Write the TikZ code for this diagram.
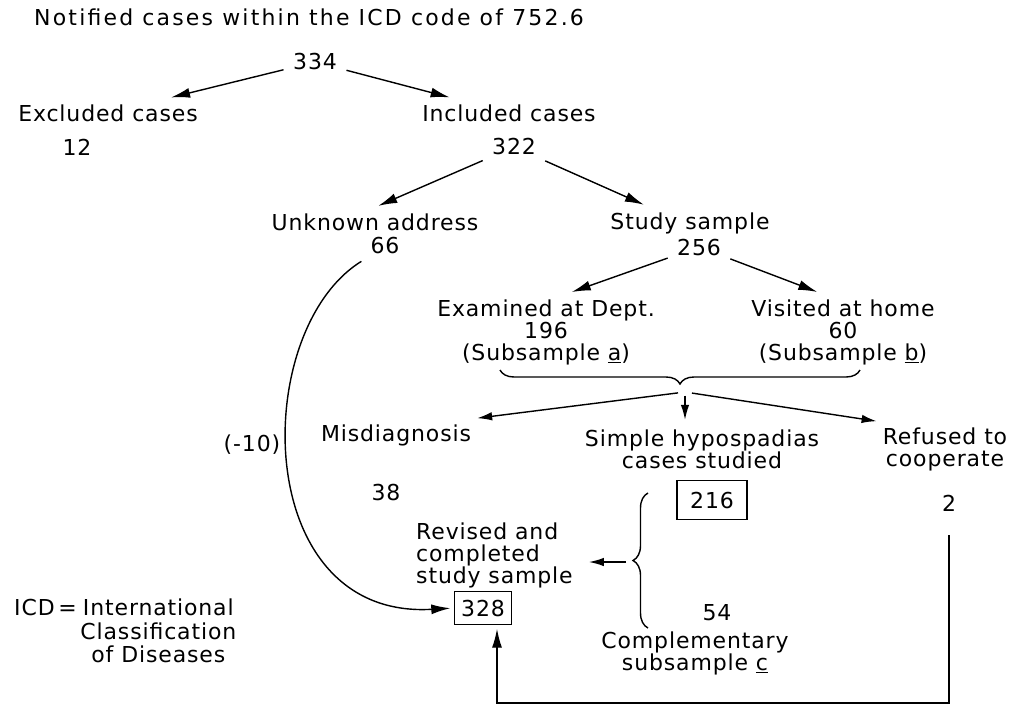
\documentclass[tikz,border=0pt]{standalone}
\usepackage{fontspec}
\setmainfont{DejaVu Sans}[LetterSpace=4]
\newfontfamily\titlefont{DejaVu Sans}[LetterSpace=10]
\usetikzlibrary{arrows.meta,decorations.pathreplacing,calc}

\tikzset{
  arr/.style={-{Latex[length=3.8mm,width=2mm]},line width=0.8pt,shorten <=2pt,shorten >=2pt},
  sarr/.style={-{Latex[length=3mm,width=1.7mm]},line width=0.8pt},
  numbox/.style={draw,line width=0.8pt},
  brc/.style={decorate,decoration={brace,amplitude=0.28cm},line width=0.8pt}
}

\begin{document}
\begin{tikzpicture}[x=0.02cm,y=-0.02cm,font=\fontsize{12.5}{12.5}\selectfont]
\useasboundingbox (0,0) rectangle (1014,707);

\draw 	(28,17) node[anchor=west](title){\titlefont Notified cases within the ICD code of 752.6};

\draw 	(315,62) node(top){334}
		(108,113) node(excl){Excluded cases}   (77,147) node(n12){12}
		(509,113) node(incl){Included cases}   (514,147) node(n322){322};

\draw 	(375,222) node(unk){Unknown address}   (385,245) node(n66){66}
		(690,223) node(study){Study sample}    (699,247) node(n256){256};

\draw 	(546,332) node[align=center](exam){Examined at Dept.\\196\\(Subsample \underline{a})}
		(843,332) node[align=center](visit){Visited at home\\60\\(Subsample \underline{b})};

\draw 	(396,435) node(misd){Misdiagnosis}   (252,445) node(minus){(-10)}
		(702,449) node[align=center](simple){Simple hypospadias\\cases studied}
		(945,449) node[align=center](refused){Refused to\\cooperate};

\draw 	(386,492) node(n38){38}
		(712,500) node[numbox,minimum width=1.4cm,minimum height=0.78cm](n216){216}
		(949,503) node(n2){2};

\draw 	(410,555) node[anchor=west,align=left](rev){Revised and\\completed\\study sample}
		(483,608) node[numbox,minimum width=1.14cm,minimum height=0.66cm](n328){328}
		(717,613) node(n54){54}
		(695,653) node[align=center](compl){Complementary\\subsample \underline{c}};

\draw 	(8,634) node[anchor=west](icd){\begin{tabular}{@{}l@{}c@{}}ICD\,=\,&International\\&Classification\\&of Diseases\end{tabular}};

\coordinate (bt) at (685,392);
\coordinate (lbt) at (626,562);
\coordinate (back) at (497,703);

\draw[arr] (top) -- (excl);
\draw[arr] (top) -- (incl);
\draw[arr] (n322) -- (unk.north);
\draw[arr] (n322) -- ($(study.north)!.5!(study.north west)$);
\draw[arr] (n256) -- (exam.60);
\draw[arr] (n256) -- (visit.120);

\draw[brc] (860,370) -- (500,370);
\draw[sarr,shorten <=4pt] (bt) -- (misd.north east);
\draw[sarr,shorten <=2pt,shorten >=2pt] (bt) -- (bt |- simple.north);
\draw[sarr,shorten <=4pt] (bt) -- (refused.north west);

\draw[arr] (n66.south west) .. controls (250,330) and (250,620) .. (n328.west);

\draw[brc,decoration={amplitude=0.3cm}] (648,628) -- (648,493);
\draw[sarr,shorten >=0.2cm] (lbt) -- (lbt -| rev.east);

\draw[arr,shorten <=0.36cm] (n2.south) |- (back) -- (back |- n328.south);
\end{tikzpicture}
\end{document}
